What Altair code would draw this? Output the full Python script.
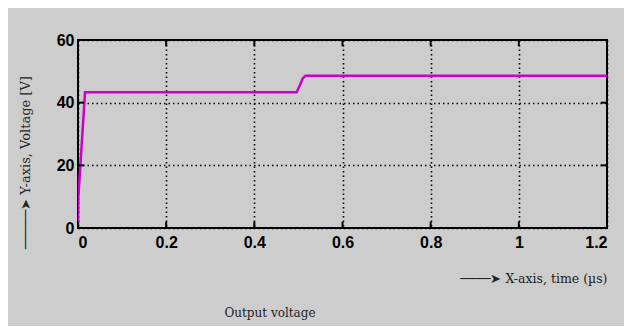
import altair as alt
import pandas as pd

# Output voltage trace (time in µs, voltage in V)
time_us = [0.0, 0.0008, 0.016, 0.496, 0.503, 0.510, 0.516, 1.2]
voltage = [0.0, 10.0, 43.3, 43.3, 45.5, 47.8, 48.6, 48.6]

x_ticks = [0, 0.2, 0.4, 0.6, 0.8, 1.0, 1.2]
y_ticks = [0, 20, 40, 60]

LINE_COLOR = "#cc00cc"
BG = "#cdcdcd"
TICK_FONT = "Liberation Sans"
SERIF = "DejaVu Serif"

df = pd.DataFrame({"t": time_us, "v": voltage})

xscale = alt.Scale(domain=[0, 1.2], nice=False, zero=False)
yscale = alt.Scale(domain=[0, 60], nice=False, zero=False)

x_axis = alt.Axis(
    values=x_ticks, format="~g", grid=True, ticks=False, domain=False,
    labelFont=TICK_FONT, labelFontWeight="bold", labelFontSize=16,
    labelColor="black", labelPadding=6,
    gridColor="black", gridDash=[1.5, 3], gridWidth=1.6, gridOpacity=1,
    title="────➤ X-axis, time (µs)", titleFont=SERIF, titleFontWeight="normal",
    titleFontSize=12.5, titleColor="#222222", titleAnchor="end", titleAlign="right",
    titleX=529, titleY=50, titleBaseline="middle",
)
y_axis = alt.Axis(
    values=y_ticks, grid=True, ticks=False, domain=False,
    labelFont=TICK_FONT, labelFontWeight="bold", labelFontSize=16,
    labelColor="black", labelPadding=4,
    gridColor="black", gridDash=[1.5, 3], gridWidth=1.6, gridOpacity=1,
    title="─────➤ Y-axis, Voltage [V]", titleFont=SERIF, titleFontWeight="normal",
    titleFontSize=13, titleColor="#222222", titleAngle=270,
    titleAlign="center", titleBaseline="middle", titleX=-53, titleY=122,
)

line = alt.Chart(df).mark_line(color=LINE_COLOR, strokeWidth=2.5, clip=True).encode(
    x=alt.X("t:Q", scale=xscale, axis=x_axis),
    y=alt.Y("v:Q", scale=yscale, axis=y_axis),
)

# inward tick marks on all four sides
xt = pd.DataFrame({"x": x_ticks})
yt = pd.DataFrame({"y": y_ticks})
tick_bottom = alt.Chart(xt).mark_rule(color="black", strokeWidth=2).encode(
    x=alt.X("x:Q", scale=xscale), y=alt.datum(0), y2=alt.datum(2))
tick_top = alt.Chart(xt).mark_rule(color="black", strokeWidth=2).encode(
    x=alt.X("x:Q", scale=xscale), y=alt.datum(58), y2=alt.datum(60))
tick_left = alt.Chart(yt).mark_rule(color="black", strokeWidth=2).encode(
    y=alt.Y("y:Q", scale=yscale), x=alt.datum(0), x2=alt.datum(0.014))
tick_right = alt.Chart(yt).mark_rule(color="black", strokeWidth=2).encode(
    y=alt.Y("y:Q", scale=yscale), x=alt.datum(1.186), x2=alt.datum(1.2))

caption = alt.Chart(pd.DataFrame({"c": ["Output voltage"]})).mark_text(
    font=SERIF, fontSize=12, color="#222222", align="center", baseline="middle"
).encode(text="c:N", x=alt.value(192), y=alt.value(273))

chart = alt.layer(line, tick_bottom, tick_top, tick_left, tick_right, caption).properties(
    width=529, height=188,
    autosize=alt.AutoSizeParams(type="none"),
    padding={"left": 70, "top": 32, "right": 17, "bottom": 98},
    background=BG,
).configure_view(stroke="black", strokeWidth=2)

chart.save("out.html", embed_options={"renderer": "svg", "actions": False})
